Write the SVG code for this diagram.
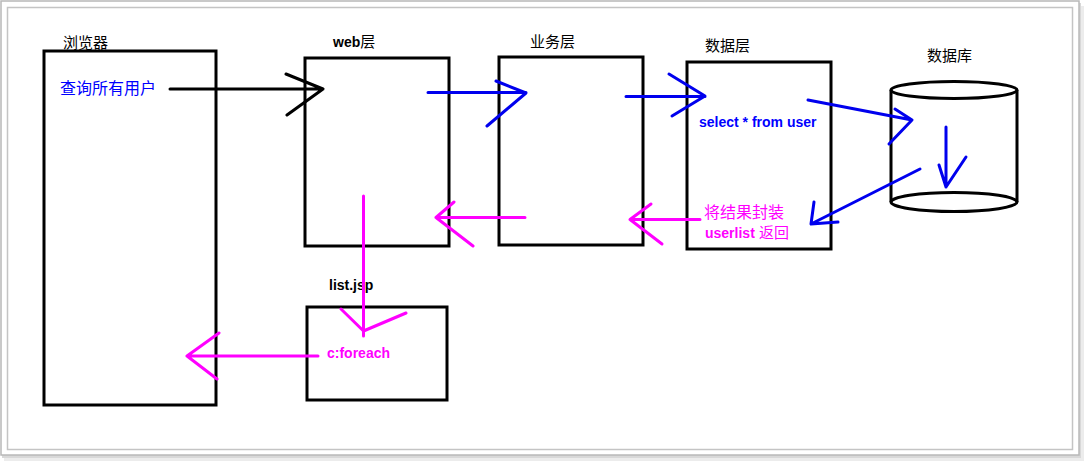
<svg xmlns="http://www.w3.org/2000/svg" width="1085" height="462" viewBox="0 0 1085 462">
<style>
.frame{fill:#fff;stroke:#b8b8b8;stroke-width:1.5}
.box{fill:none;stroke:#000;stroke-width:3}
.lbl{font-family:"Liberation Sans","Noto Sans CJK SC",sans-serif;font-size:15px;fill:#000}
.b{font-weight:bold}
.blue{fill:#0000ff}
.mag{fill:#ff00ff}
.k{fill:none;stroke:#000;stroke-width:3;stroke-linecap:round;stroke-linejoin:round}
.bl{fill:none;stroke:#0000ee;stroke-width:3;stroke-linecap:round;stroke-linejoin:round}
.mg{fill:none;stroke:#ff00ff;stroke-width:3;stroke-linecap:round;stroke-linejoin:round}
</style>
<rect width="1085" height="462" fill="#fff"/>
<g id="frame">
<rect x="4" y="6" width="1080" height="455" fill="#ececec"/>
<rect x="2" y="3" width="1079" height="455" fill="#d8d8d8"/>
<rect x="1" y="1" width="1078" height="454" class="frame"/>
<rect x="7.5" y="7.5" width="1065" height="442" class="frame" style="stroke:#c4c4c4"/>
</g>
<g id="browser">
<rect x="44" y="51" width="172" height="354" class="box"/>
<text x="63" y="48" class="lbl">浏览器</text>
<text x="60" y="94" class="lbl blue" style="font-size:16px">查询所有用户</text>
</g>
<g id="web">
<rect x="305" y="58" width="144" height="188" class="box"/>
<text x="333" y="47" class="lbl"><tspan class="b" style="font-size:14px">web</tspan>层</text>
</g>
<g id="business">
<rect x="499" y="57" width="144" height="188" class="box"/>
<text x="530" y="47" class="lbl">业务层</text>
</g>
<g id="data">
<rect x="687" y="62" width="144" height="187" class="box"/>
<text x="705" y="51" class="lbl">数据层</text>
<text x="699" y="127" class="lbl b blue" style="font-size:14px">select * from user</text>
<text x="704" y="218" class="lbl mag" style="font-size:16px">将结果封装</text>
<text x="705" y="238" class="lbl mag"><tspan class="b" style="font-size:14px">userlist</tspan> 返回</text>
</g>
<g id="database">
<path d="M891,90 V202 M1017,90 V202" class="k" style="stroke-linecap:butt"/>
<ellipse cx="954" cy="90" rx="63" ry="8.5" class="k"/>
<ellipse cx="954" cy="202" rx="63" ry="9.5" class="k"/>
<text x="927" y="61" class="lbl">数据库</text>
</g>
<g id="listjsp">
<rect x="307" y="307" width="140" height="93" class="box"/>
<text x="329" y="290" class="lbl b" style="font-size:14px">list.jsp</text>
<text x="327" y="358" class="lbl b mag" style="font-size:14px">c:foreach</text>
</g>
<g id="connectors">
<path d="M170,89 H323 M286,74 L323,89 L287,115" class="k"/>
<path d="M428,92.5 H526 M496,81 L526,93 L487,126" class="bl"/>
<path d="M626,96.5 H705 M669,74 L705,96 L672,116" class="bl"/>
<path d="M808,100 L912,120 M895,109 L912,120 L889,144" class="bl"/>
<path d="M946,127 V187 M939,165 L946,187 L966,157" class="bl"/>
<path d="M920,169 L811,224 M814,202 L811,224 L838,222" class="bl"/>
<path d="M700,219.5 H630 M651,204 L630,219.5 L662,244" class="mg"/>
<path d="M525,217.5 H436 M454,202 L436,217.5 L473,246" class="mg"/>
<path d="M363.5,196 V336 M341,309 L363.5,331 L406,313" class="mg"/>
<path d="M318,356 H187 M219,333 L187,356 L217,379" class="mg"/>
</g>
</svg>
